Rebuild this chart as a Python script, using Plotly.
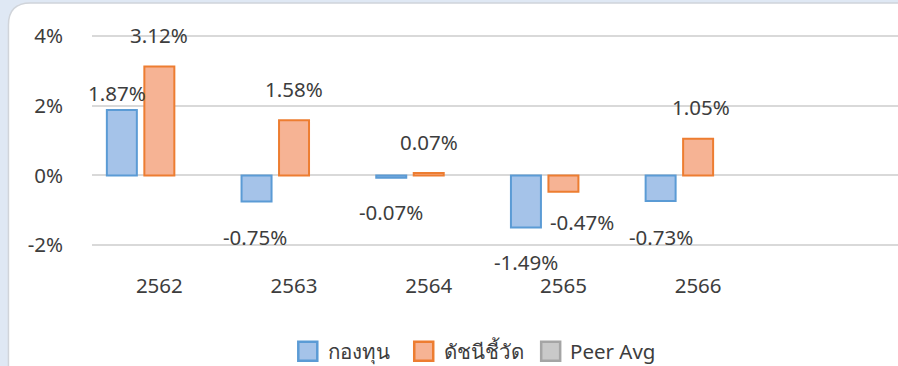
import plotly.graph_objects as go

# Annual returns (%) by Thai Buddhist-era year
years = ["2562", "2563", "2564", "2565", "2566"]
fund = [1.87, -0.75, -0.07, -1.49, -0.73]
benchmark = [3.12, 1.58, 0.07, -0.47, 1.05]
peer_avg = [None, None, None, None, None]

series_names = ["กองทุน", "ดัชนีชี้วัด", "Peer Avg"]
fills = ["#a5c3e9", "#f6b394", "#c9c9c9"]
edges = ["#5b9bd5", "#ed7d31", "#a5a5a5"]

# Hand-placed data-label offsets (px) relative to each bar's end
fund_label_dx = [-42, -39, -38, -37, -37]
fund_label_dy = [17, -35, -34, -35, -36]
bench_label_dx = [0, 0, 0, 19, 3]
bench_label_dy = [31, 31, 31, -30, 32]

W, H = 898, 366
L, R, T, B = 91.6, 0, 33.95, 118.55
PW, PH = W - L - R, H - T - B
FONT = "Noto Sans, DejaVu Sans, sans-serif"
TXT = "#3d3d3d"
FS = 20.5


def px_x(px):
    return (px - L) / PW


def px_y(py):
    return (H - B - py) / PH


fig = go.Figure()
for name, vals, fc, ec in zip(series_names, (fund, benchmark, peer_avg), fills, edges):
    fig.add_trace(go.Bar(
        x=years, y=vals, name=name,
        marker=dict(color=fc, line=dict(color=ec, width=2)),
    ))

annotations = []
for vals, dxs, dys in ((fund, fund_label_dx, fund_label_dy),
                       (benchmark, bench_label_dx, bench_label_dy)):
    for i, (v, dx, dy) in enumerate(zip(vals, dxs, dys)):
        annotations.append(dict(
            x=i, y=v, xref="x", yref="y", text=f"{v:.2f}%",
            showarrow=False, xshift=dx, yshift=dy,
            font=dict(family=FONT, size=FS, color=TXT),
        ))

# White card with a rounded top-left corner on a pale blue page
x0, y0 = px_x(8), px_y(3)
x1, yb = px_x(W + 20), px_y(H + 20)
rx, ry = 22 / PW, 22 / PH
card = (f"M {x0},{yb} L {x0},{y0 - ry} Q {x0},{y0} {x0 + rx},{y0} "
        f"L {x1},{y0} L {x1},{yb} Z")
shapes = [dict(type="path", path=card, xref="paper", yref="paper",
               fillcolor="white", line=dict(color="#d0d4da", width=1.5),
               layer="below")]

# Legend: swatch + label for each series, laid out along the bottom
legend_swatch_left = [297, 413, 540]
legend_text_left = [326, 442, 568]
legend_cy = 352
for name, fc, ec, sx, tx in zip(series_names, fills, edges,
                                legend_swatch_left, legend_text_left):
    shapes.append(dict(type="rect", xref="paper", yref="paper",
                       x0=px_x(sx + 1), x1=px_x(sx + 20),
                       y0=px_y(legend_cy - 9.5), y1=px_y(legend_cy + 9.5),
                       fillcolor=fc, line=dict(color=ec, width=2.5)))
    annotations.append(dict(x=px_x(tx), y=px_y(legend_cy), xref="paper",
                            yref="paper", xanchor="left", yanchor="middle",
                            text=name, showarrow=False,
                            font=dict(family=FONT, size=FS, color=TXT)))

fig.update_layout(
    width=W, height=H,
    margin=dict(l=L, r=R, t=T, b=B, pad=0),
    paper_bgcolor="#dfe8f4",
    plot_bgcolor="rgba(0,0,0,0)",
    barmode="group", bargap=0.165, bargroupgap=0.2,
    font=dict(family=FONT, size=FS, color=TXT),
    shapes=shapes,
    annotations=annotations,
    showlegend=False,
    xaxis=dict(type="category", range=[-0.5, 5.484], showgrid=False,
               zeroline=False, showline=False, ticks="",
               ticklabelstandoff=24,
               tickfont=dict(family=FONT, size=FS, color=TXT)),
    yaxis=dict(range=[-2.05, 4.05],
               showgrid=True, gridcolor="#d9d9d9", gridwidth=1.5,
               zeroline=True, zerolinecolor="#d9d9d9", zerolinewidth=1.5,
               showline=False, ticks="", ticklabelstandoff=28,
               tickvals=[-2, 0, 2, 4], ticktext=["-2%", "0%", "2%", "4%"],
               tickfont=dict(family=FONT, size=FS, color=TXT)),
)

fig.write_html("out.html")
